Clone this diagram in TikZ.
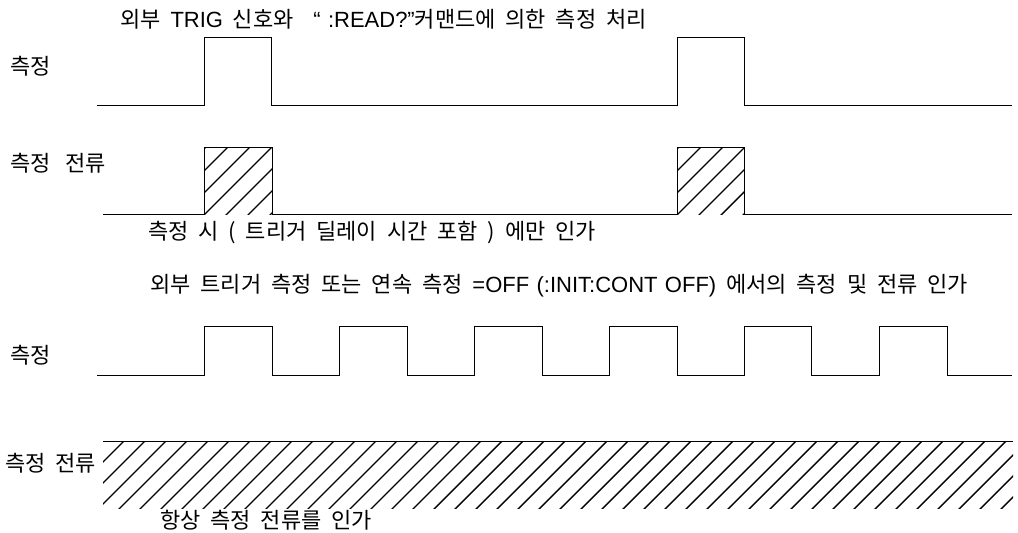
\documentclass[tikz,border=0pt]{standalone}
\usepackage{fontspec}
\setmainfont{Noto Sans CJK KR}[WordSpace=2.0]
\newfontfamily\lat{Liberation Sans}[WordSpace=1.2]
\begin{document}
\begin{tikzpicture}[x=1pt,y=-1pt,
  lbl/.style={anchor=west,inner sep=0pt,font=\fontsize{22}{26}\selectfont},
  wave/.style={line width=0.9pt,line join=miter},
  hatchline/.style={line width=1.4pt}]
\useasboundingbox (0,0) rectangle (1018,533);
% texts
\node[lbl] (title1) at (120,19) {외부 {\lat TRIG} 신호와 \ {\lat “ :READ?”}커맨드에 의한 측정 처리};
\node[lbl] (m1) at (10,66) {측정};
\node[lbl] (c1) at (10,163) {측정\hspace{5pt} 전류};
\node[lbl] (note1) at (148,232) {측정 시 ( 트리거 딜레이 시간 포함 ) 에만 인가};
\node[lbl] (title2) at (150,286) {외부 트리거 측정 또는 연속 측정 {\lat =OFF (:INIT:CONT OFF)} 에서의 측정 및 전류 인가};
\node[lbl] (m2) at (10,355) {측정};
\node[lbl] (c2) at (5,463) {측정 전류};
\node[lbl] (note2) at (160,520) {항상 측정 전류를 인가};
% waveform 1
\draw[wave] (97,105) -- (204,105) -- (204,37) -- (271,37) -- (271,105) -- (677,105) -- (677,37) -- (744,37) -- (744,105) -- (1012,105);
% waveform 2
\draw[wave] (103,214) -- (204,214) -- (204,147) -- (272,147) -- (272,214) -- (677,214) -- (677,147) -- (744,147) -- (744,214) -- (1012,214);
\foreach \bx/\ex in {204/272,677/744}{
  \begin{scope}
    \clip (\bx,147) rectangle (\ex,214);
    \foreach \k in {-1,...,7} \draw[hatchline] (\bx+2+\k*22,147) -- ++(-90,90);
  \end{scope}
}
% waveform 3
\draw[wave] (97,375) -- (204,375)
  -- (204,326) -- (272,326) -- (272,375) -- (339,375)
  -- (339,326) -- (407,326) -- (407,375) -- (474,375)
  -- (474,326) -- (542,326) -- (542,375) -- (609,375)
  -- (609,326) -- (677,326) -- (677,375) -- (744,375)
  -- (744,326) -- (811,326) -- (811,375) -- (879,375)
  -- (879,326) -- (947,326) -- (947,375) -- (1012,375);
% band
\draw[wave] (103,441) -- (1013,441);
\begin{scope}
  \clip (103,441) rectangle (1013,508);
  \foreach \k in {0,...,47} \draw[hatchline] (103+\k*21,441) -- ++(-90,90);
\end{scope}
\end{tikzpicture}
\end{document}
